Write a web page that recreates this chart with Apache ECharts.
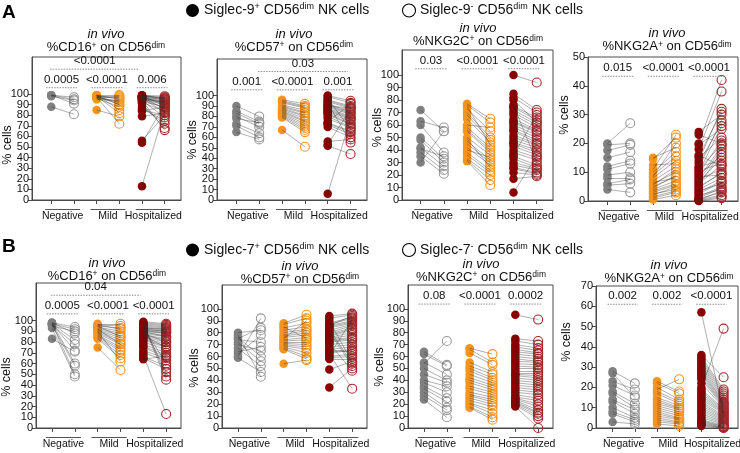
<!DOCTYPE html>
<html><head><meta charset="utf-8">
<script src="https://cdn.jsdelivr.net/npm/echarts@6/dist/echarts.min.js"></script>
<style>html,body{margin:0;padding:0;background:#fff}#c{width:740px;height:453px}</style>
</head><body><div id="c"></div>
<script>
// ---------- DATA ----------
const groups = ['Negative', 'Mild', 'Hospitalized'];
const markers = ['CD16', 'CD57', 'NKG2C', 'NKG2A'];
const yTicks100 = [0,10,20,30,40,50,60,70,80,90,100];
const yTicks50 = [0,10,20,30,40,50];
const yTicks70 = [0,10,20,30,40,50,60,70];

// A: Siglec-9+ (filled) vs Siglec-9- (open)
const A1_neg_pos = [99,99,98,99,88];
const A1_neg_neg = [97,95,94,91,81];
const A1_mild_pos = [99,98,99,97,98,96,99,98,97,96,98,95,97,85,99];
const A1_mild_neg = [99,97,95,92,90,88,85,82,72,98,96,94,93,79,90];
const A1_hosp_pos = [13,54,56,79,84,86,88,91,94,95,96,97,98,99,97,96,95,98,99,94,93,97,98,95,99,96,92,97,85,98];
const A1_hosp_neg = [85,90,80,82,88,75,72,68,66,90,93,95,97,98,86,83,92,94,96,78,88,91,89,87,95,92,84,93,80,96];
const A1_p = ['0.0005','<0.0001','0.006'];
const A1_pTop = '<0.0001';

const A2_neg_pos = [90,85,83,78,73,71,65,80];
const A2_neg_neg = [80,75,73,74,64,60,58,70];
const A2_mild_pos = [96,95,94,93,91,90,89,88,87,86,85,84,83,82,81,80,79,67];
const A2_mild_neg = [92,90,89,88,86,84,83,81,80,78,76,75,73,71,69,67,65,51];
const A2_hosp_pos = [100,99,97,96,95,94,93,92,91,90,89,88,87,86,85,84,83,82,80,78,75,74,73,72,70,56,53,52,6,90];
const A2_hosp_neg = [95,93,68,90,89,88,55,85,84,83,82,80,79,78,77,75,73,72,70,69,92,66,65,63,60,58,87,44,78,88];
const A2_p = ['0.001','<0.0001','0.001'];
const A2_pTop = '0.03';

const A3_neg_pos = [72,63,60,50,48,42,38,35,30,41];
const A3_neg_neg = [55,58,38,33,30,27,24,21,55,35];
const A3_mild_pos = [77,76,75,73,70,68,65,60,58,56,55,50,49,47,45,42,40,38,36,33,32,31];
const A3_mild_neg = [65,62,44,55,50,48,46,58,42,40,38,36,26,32,30,28,34,24,22,20,16,12];
const A3_hosp_pos = [100,85,82,76,75,74,72,70,68,65,63,62,60,58,56,55,52,50,48,46,45,43,40,38,36,35,33,30,28,26,25,22,17,6,80];
const A3_hosp_neg = [94,72,70,30,66,64,62,60,58,56,55,54,52,50,48,46,45,44,42,40,38,36,34,32,68,28,26,25,24,22,21,20,19,35,62];
const A3_p = ['0.03','<0.0001','<0.0001'];

const A4_neg_pos = [20,19.5,17.5,15,12,11,9,8,6,5.5,4];
const A4_neg_neg = [27,20,19.5,17,14,13,10,8,7.5,6,3];
const A4_mild_pos = [15,14.5,12.5,11,10,9,8.5,8,7,6.5,6,5.5,5,4.5,4,3.5,3,2.5,2,1.5,1,0.5];
const A4_mild_neg = [18.5,22,13,23,17,15.5,20,14,12,8,10,11,8.5,9,7,6,5.5,4,5,3.5,3,2];
const A4_hosp_pos = [24,23,20,19.5,18,16,15.5,15,14,13,12,11.5,11,10.5,10,9.5,9,8.5,8,7.5,7,6.5,6,5.5,5,4.5,4,3.5,3,2.5,2,1.5,1,0.8,0.5,0.3,0.2,0];
const A4_hosp_neg = [30,20,42,25,38,12,31,22,32,27,14,28,19.5,13,26,21,16,9,19,11,18,15,12.5,17,9.5,10,8,6,7,6.5,4,5,4.5,3,2,3.5,1.5,1];
const A4_p = ['0.015','<0.0001','<0.0001'];

// B: Siglec-7+ (filled) vs Siglec-7- (open)
const B1_neg_pos = [98,97,98,97,96,97,98,96,97,93,83,95];
const B1_neg_neg = [94,92,88,82,78,72,60,58,50,48,71,90];
const B1_mild_pos = [97,96,95,94,93,92,91,90,89,88,87,86,85,84,83,75,96,95,92,90];
const B1_mild_neg = [97,95,93,90,88,86,84,82,80,78,75,73,71,68,65,54,92,85,78,62];
const B1_hosp_pos = [99,98,97,96,95,94,93,92,91,90,89,88,87,86,85,84,83,82,80,78,76,75,72,70,68,66,65,64,97,96,95,94,93,92,91,90,88,86];
const B1_hosp_neg = [97,96,95,94,93,92,91,90,89,88,86,85,83,82,80,78,76,75,73,70,68,66,65,63,13,58,55,67,48,45,52,60,92,90,88,85,80,75];
const B1_p = ['0.0005','<0.0001','<0.0001'];
const B1_pTop = '0.04';

const B2_neg_pos = [60,75,80,62,64,70,76,72,67,59,78,74];
const B2_neg_neg = [92,84,82,78,68,65,60,56,52,47,43,72];
const B2_mild_pos = [88,87,85,84,82,80,78,77,76,75,74,73,72,71,70,69,68,67,66,54];
const B2_mild_neg = [95,92,75,88,85,83,82,80,78,90,76,74,72,70,68,66,63,60,58,57];
const B2_hosp_pos = [94,92,90,88,87,86,85,84,82,80,79,78,77,76,75,74,73,72,70,68,66,64,63,62,60,59,58,49,34,86,83,81,71,65,61];
const B2_hosp_neg = [96,95,55,93,92,90,89,88,87,86,84,83,82,80,78,76,75,74,72,70,68,66,65,33,62,60,58,56,50,94,54,52,48,64,91];

const B3_neg_pos = [64,62,55,50,45,40,38,35,33,30,27,24,54];
const B3_neg_neg = [53,52,45,40,38,35,30,25,22,17,15,9,73];
const B3_mild_pos = [67,66,63,55,52,50,48,45,42,40,38,35,33,30,28,27,25,23,21,20,18,17];
const B3_mild_neg = [62,55,53,47,45,42,40,38,36,34,32,30,28,26,24,22,20,18,15,12,9,7];
const B3_hosp_pos = [95,75,73,70,68,66,64,62,60,58,56,54,52,50,48,46,45,44,42,40,38,36,34,32,30,28,26,25,24,23,22,21,20,19,18];
const B3_hosp_neg = [91,73,70,67,65,63,62,60,58,56,55,53,51,50,48,46,44,42,40,38,36,34,32,30,28,25,23,20,18,15,13,12,10,8,0];
const B3_p = ['0.08','<0.0001','0.0002'];

const B4_neg_pos = [28,23,21,27,18,17,14,13,10,8,7,3];
const B4_neg_neg = [22,19,16,15,12,10,9,7,5,4,3,2];
const B4_mild_pos = [19,23,22,20,18,17,15,14,13,12,11,10,9,8,7,6,5,4,3,2];
const B4_mild_neg = [24,18,17,14,13,12,11,10,9.5,9,8,7,6,5,4.5,4,3,2.5,2,1];
const B4_hosp_pos = [57,20,36,35,34,33,32,31,30,29,28,27,26,25,24,22,19,18,17,16,15,14,13,12,11,10,9,8,7,6,5,4,3.5,3,2.5,2,1.5,1];
const B4_hosp_neg = [6.5,49,25,19,18,17,16,15,14,13,12.5,12,11.5,11,10.5,10,9.5,9,8.5,8,7.5,7,6,5.5,5,4.5,4,3.5,3,2.5,2,1.5,1,0.8,0.5,0.3,0.2,0];
const B4_p = ['0.002','0.002','<0.0001'];

// ---------- PANELS ----------
const PANELS = [
  {marker:0, ticks:yTicks100, grp:[[A1_neg_pos,A1_neg_neg],[A1_mild_pos,A1_mild_neg],[A1_hosp_pos,A1_hosp_neg]], p:A1_p, top:{text:A1_pTop, a:1, b:5}},
  {marker:1, ticks:yTicks100, grp:[[A2_neg_pos,A2_neg_neg],[A2_mild_pos,A2_mild_neg],[A2_hosp_pos,A2_hosp_neg]], p:A2_p, top:{text:A2_pTop, a:2, b:6}},
  {marker:2, ticks:yTicks100, grp:[[A3_neg_pos,A3_neg_neg],[A3_mild_pos,A3_mild_neg],[A3_hosp_pos,A3_hosp_neg]], p:A3_p},
  {marker:3, ticks:yTicks50,  grp:[[A4_neg_pos,A4_neg_neg],[A4_mild_pos,A4_mild_neg],[A4_hosp_pos,A4_hosp_neg]], p:A4_p},
  {marker:0, ticks:yTicks100, grp:[[B1_neg_pos,B1_neg_neg],[B1_mild_pos,B1_mild_neg],[B1_hosp_pos,B1_hosp_neg]], p:B1_p, top:{text:B1_pTop, a:1, b:5}},
  {marker:1, ticks:yTicks100, grp:[[B2_neg_pos,B2_neg_neg],[B2_mild_pos,B2_mild_neg],[B2_hosp_pos,B2_hosp_neg]], p:null},
  {marker:2, ticks:yTicks100, grp:[[B3_neg_pos,B3_neg_neg],[B3_mild_pos,B3_mild_neg],[B3_hosp_pos,B3_hosp_neg]], p:B3_p},
  {marker:3, ticks:yTicks70,  grp:[[B4_neg_pos,B4_neg_neg],[B4_mild_pos,B4_mild_neg],[B4_hosp_pos,B4_hosp_neg]], p:B4_p}
];

// layout (pixels / axis ranges)
const LAYOUT = [
  {left:32, top:57, width:149, height:143, xmin:0.15, xmax:6.72, ymax:135, gy:106,   ty:123.5, title:[106,41],   ylab:[8,145]},
  {left:217,top:59, width:150, height:141, xmin:0.15, xmax:6.72, ymax:135, gy:105.5, ty:123,   title:[294,40.5], ylab:[193,140]},
  {left:402,top:50, width:151, height:150, xmin:0.2,  xmax:6.7,  ymax:120, gy:105,   title:[478,34.5], ylab:[378,127.5]},
  {left:588,top:57, width:150, height:144, xmin:0.15, xmax:6.72, ymax:50,  gy:43.3,  title:[667,40],   ylab:[565,115]},
  {left:36, top:283,width:145, height:145, xmin:0.3,  xmax:6.65, ymax:135, gy:106.3, ty:123.6, title:[107,269.5], ylab:[7,377]},
  {left:222,top:285,width:145, height:143, xmin:0.3,  xmax:6.65, ymax:120, title:[300,272.5], ylab:[195,368]},
  {left:408,top:285,width:145, height:143, xmin:0.3,  xmax:6.65, ymax:120, gy:104,   title:[481,270.5], ylab:[380,367]},
  {left:596,top:286,width:142, height:142, xmin:0.25, xmax:6.65, ymax:70,  gy:61,    title:[669,272],   ylab:[567,342]}
];

const FONT = '"Liberation Sans", Arial, Helvetica, sans-serif';
const FILL = ['#808080', '#F7941D', '#8B0000'];
const OPEN = ['#9A9A9A', '#F7941D', '#A3282A'];
const AXC = '#4a4a4a';

const grids = [], xAxes = [], yAxes = [], yAxesExtra = [], series = [], graphics = [];
const N = PANELS.length;

PANELS.forEach((P, i) => {
  const L = LAYOUT[i];
  const evenTicks = P.ticks.filter((v, k) => k % 2 === 0);
  const oddTicks = P.ticks.filter((v, k) => k % 2 === 1);
  grids.push({left:L.left, top:L.top, width:L.width, height:L.height, show:true, borderColor:AXC, borderWidth:1});
  xAxes.push({gridIndex:i, type:'value', min:L.xmin, max:L.xmax,
    axisLine:{show:true, onZero:false, lineStyle:{color:AXC, width:1}},
    axisTick:{show:true, customValues:[1,2,3,4,5,6], length:4, lineStyle:{color:AXC}},
    axisLabel:{show:false}, splitLine:{show:false}});
  const lbl = {fontSize:11, color:'#111', margin:3, fontFamily:FONT, hideOverlap:false, showMinLabel:true, showMaxLabel:true};
  yAxes.push({gridIndex:i, type:'value', min:0, max:L.ymax, position:'left',
    axisLine:{show:true, onZero:false, lineStyle:{color:AXC, width:1}},
    axisTick:{show:true, customValues:P.ticks, length:4, lineStyle:{color:AXC}},
    axisLabel:Object.assign({customValues:evenTicks}, lbl),
    splitLine:{show:false}});
  // second label layer on the same side (odd tick labels) so none get auto-hidden
  yAxesExtra.push({gridIndex:i, type:'value', min:0, max:L.ymax, position:'left', offset:0,
    axisLine:{show:false}, axisTick:{show:false},
    axisLabel:Object.assign({customValues:oddTicks}, lbl),
    splitLine:{show:false}});

  P.grp.forEach(([plus, minus], g) => {
    const xp = 2*g + 1, xm = 2*g + 2;
    series.push({type:'scatter', xAxisIndex:i, yAxisIndex:i, silent:true, z:2,
      data: plus.map(v => [xp, v]), symbolSize:8.5,
      itemStyle:{color:FILL[g], opacity:1}});
    series.push({type:'scatter', xAxisIndex:i, yAxisIndex:i, silent:true, z:2,
      data: minus.map(v => [xm, v]), symbolSize:9,
      itemStyle:{color:'rgba(255,255,255,0)', borderColor:OPEN[g], borderWidth:1.1, opacity:1}});
    series.push({type:'lines', coordinateSystem:'cartesian2d', xAxisIndex:i, yAxisIndex:i, silent:true, z:3,
      data: plus.map((v, j) => ({coords:[[xp, v], [xm, minus[j]]]})),
      lineStyle:{color:'#2a2a2a', width:0.5, opacity:0.75}});
  });

  // p-value brackets
  const br = [];
  if (P.p) P.p.forEach((t, g) => { const c = 2*g + 1.45; br.push({x1:c-0.68, x2:c+0.68, y:L.gy, text:t}); });
  if (P.top) br.push({x1:P.top.a-0.05, x2:P.top.b-0.12, y:L.ty, text:P.top.text});
  if (br.length) {
    series.push({type:'custom', xAxisIndex:i, yAxisIndex:i, silent:true, z:4,
      data: br.map(b => [b.x1, b.x2, b.y]), encode:{x:[0,1], y:2},
      renderItem: (params, api) => {
        const b = br[params.dataIndex];
        const p1 = api.coord([api.value(0), api.value(2)]);
        const p2 = api.coord([api.value(1), api.value(2)]);
        return {type:'group', children:[
          {type:'line', shape:{x1:p1[0], y1:p1[1], x2:p2[0], y2:p2[1]},
           style:{stroke:'#8c8c8c', lineWidth:1, lineDash:[1.5,1.2]}},
          {type:'text', x:(p1[0]+p2[0])/2, y:p1[1]-2,
           style:{text:b.text, fontSize:11.5, fontFamily:FONT, fill:'#111', align:'center', verticalAlign:'bottom'}}
        ]};
      }});
  }

  // group underline + labels
  series.push({type:'custom', xAxisIndex:i, yAxisIndex:i, silent:true, z:4,
    data: groups.map((g, k) => [2*k + 1.5, 0]), encode:{x:0, y:1},
    renderItem: (params, api) => {
      const x = api.value(0);
      const pl = api.coord([x - 0.77, 0]), pr = api.coord([x + 0.77, 0]), pc = api.coord([x, 0]);
      return {type:'group', children:[
        {type:'line', shape:{x1:pl[0], y1:pc[1]+9.5, x2:pr[0], y2:pc[1]+9.5}, style:{stroke:'#555', lineWidth:1}},
        {type:'text', x:pc[0], y:pc[1]+11, style:{text:groups[params.dataIndex], fontSize:10.5, fontFamily:FONT, fill:'#111', align:'center', verticalAlign:'top'}}
      ]};
    }});

  // titles
  const richT = {
    i:{fontSize:13, fontStyle:'italic', lineHeight:13, fontFamily:FONT, fill:'#111'},
    a:{fontSize:13, lineHeight:13, fontFamily:FONT, fill:'#111'},
    s:{fontSize:8.5, lineHeight:7, verticalAlign:'top', fontFamily:FONT, fill:'#111'}
  };
  graphics.push({type:'text', x:L.title[0], y:L.title[1], silent:true,
    style:{text:'{i|in vivo}\n{a|%' + markers[P.marker] + '}{s|+}{a| on CD56}{s|dim}', rich:richT, align:'center', verticalAlign:'middle'}});
  graphics.push({type:'text', x:L.ylab[0], y:L.ylab[1], rotation:Math.PI/2, silent:true,
    style:{text:'% cells', fontSize:12.5, fontFamily:FONT, fill:'#111', align:'center', verticalAlign:'middle'}});
});

// headers
const richH = {
  a:{fontSize:14, lineHeight:16, fontFamily:FONT, fill:'#111'},
  s:{fontSize:9, lineHeight:9, verticalAlign:'top', fontFamily:FONT, fill:'#111'}
};
[['A', 13, '9'], ['B', 247, '7']].forEach(([letter, y, sig], r) => {
  const hy = r === 0 ? 10.5 : 250;
  graphics.push({type:'text', x:2, y:y, silent:true, style:{text:letter, fontSize:19, fontWeight:'bold', fontFamily:FONT, fill:'#000', verticalAlign:'middle'}});
  graphics.push({type:'circle', shape:{cx:192.5, cy:hy, r:6.5}, silent:true, style:{fill:'#000'}});
  graphics.push({type:'text', x:204, y:hy, silent:true, style:{text:'{a|Siglec-' + sig + '}{s|+}{a| CD56}{s|dim}{a| NK cells}', rich:richH, verticalAlign:'middle'}});
  graphics.push({type:'circle', shape:{cx:409, cy:hy, r:6.5}, silent:true, style:{fill:'#fff', stroke:'#000', lineWidth:1.1}});
  graphics.push({type:'text', x:420, y:hy, silent:true, style:{text:'{a|Siglec-' + sig + '}{s|-}{a| CD56}{s|dim}{a| NK cells}', rich:richH, verticalAlign:'middle'}});
});

const chart = echarts.init(document.getElementById('c'), null, {renderer:'canvas'});
chart.setOption({
  animation:false,
  backgroundColor:'#fff',
  textStyle:{fontFamily:FONT},
  grid:grids, xAxis:xAxes, yAxis:yAxes.concat(yAxesExtra), series:series, graphic:graphics
});
</script>
</body></html>
